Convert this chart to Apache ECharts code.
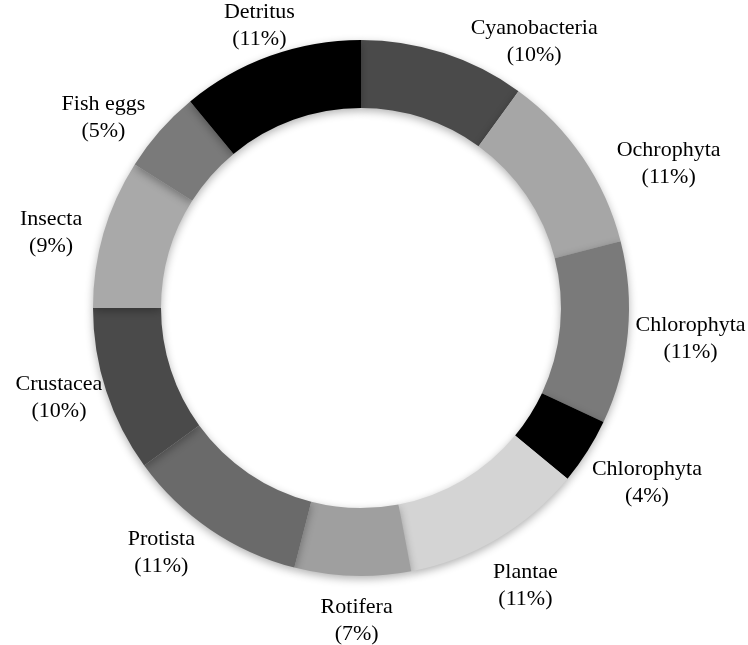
<!DOCTYPE html>
<html>
<head>
<meta charset="utf-8">
<script src="https://cdn.jsdelivr.net/npm/echarts@6/dist/echarts.min.js"></script>
<style>
  html, body { margin: 0; padding: 0; background: #fff; }
  #main { width: 748px; height: 645px; }
</style>
</head>
<body>
<div id="main"></div>
<script>
// diet composition, clockwise from 12 o'clock
var groups = ['Cyanobacteria', 'Ochrophyta', 'Chlorophyta', 'Chlorophyta', 'Plantae', 'Rotifera',
              'Protista', 'Crustacea', 'Insecta', 'Fish eggs', 'Detritus'];
var shares = [10, 11, 11, 4, 11, 7, 11, 10, 9, 5, 11];
var shades = ['#4a4a4a', '#a6a6a6', '#7a7a7a', '#000000', '#d4d4d4', '#9f9f9f',
              '#6a6a6a', '#4a4a4a', '#a9a9a9', '#7a7a7a', '#000000'];

// label placement tweaks (degrees, px) relative to the slice middle
var labelTurn = [15, 9, 0, -1, 0, -1, 5, 1.5, -2.5, -5, 0];
var labelPush = [-5, 17, 8, 12, 0, -10, -7, -8, -4, -3, -23];

var CX = 361, CY = 308, R_IN = 200, R_OUT = 268, LABEL_R = 323;

var total = 0;
for (var i = 0; i < shares.length; i++) total += shares[i];

function midAngle(idx) {
    var before = 0;
    for (var k = 0; k < idx; k++) before += shares[k];
    return (before + shares[idx] / 2) / total * 360;
}

var chart = echarts.init(document.getElementById('main'));

var data = [];
for (var j = 0; j < groups.length; j++) {
    data.push({ name: groups[j], value: shares[j], itemStyle: { color: shades[j] } });
}

chart.setOption({
    backgroundColor: '#ffffff',
    animation: false,
    series: [{
        type: 'pie',
        center: [CX, CY],
        radius: [R_IN, R_OUT],
        startAngle: 90,
        clockwise: true,
        silent: true,
        avoidLabelOverlap: false,
        itemStyle: {
            borderWidth: 0,
            shadowBlur: 8,
            shadowOffsetY: 3,
            shadowColor: 'rgba(0,0,0,0.3)'
        },
        label: {
            show: true,
            position: 'outside',
            formatter: '{b}\n({c}%)',
            fontFamily: '"Liberation Serif", "Times New Roman", serif',
            fontSize: 22,
            lineHeight: 27,
            color: '#000',
            align: 'center'
        },
        labelLine: { show: false },
        labelLayout: function (p) {
            var a = (midAngle(p.dataIndex) + labelTurn[p.dataIndex]) * Math.PI / 180;
            var d = LABEL_R + labelPush[p.dataIndex];
            return {
                x: CX + d * Math.sin(a),
                y: CY - d * Math.cos(a),
                align: 'center',
                verticalAlign: 'middle'
            };
        },
        data: data
    }]
});
</script>
</body>
</html>
